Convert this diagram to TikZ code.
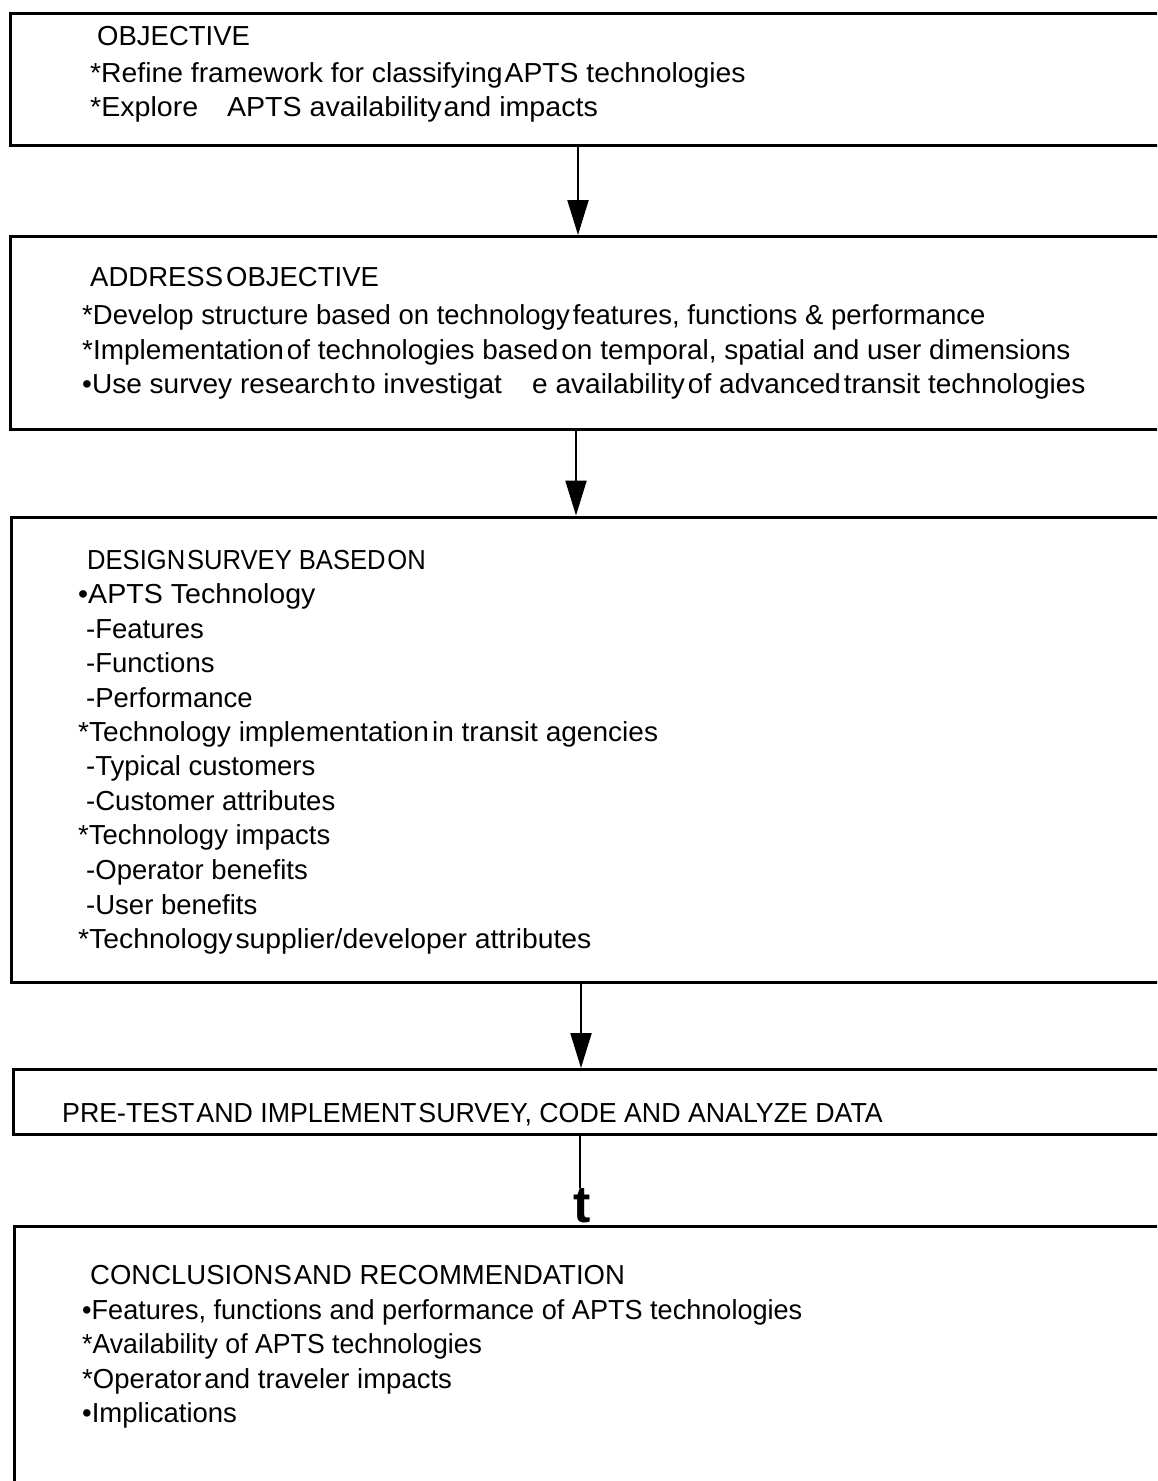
\documentclass[tikz,border=0pt]{standalone}
\usepackage{fontspec}
\setmainfont{Liberation Sans}
\usetikzlibrary{arrows.meta}
\begin{document}
\begin{tikzpicture}[x=1pt,y=-1pt,
  boxframe/.style={draw=black, line width=3pt, inner sep=0pt, anchor=north west},
  txt/.style={anchor=base west, inner sep=0pt, font=\fontsize{27.5}{33}\selectfont},
  conn/.style={line width=2.2pt, -{Triangle[length=35pt,width=21pt]}},
  plainline/.style={line width=2.2pt}]
\useasboundingbox (0,0) rectangle (1157,1481);
\clip (0,0) rectangle (1157,1481);
% boxes
\node[boxframe, minimum width=1180pt, minimum height=132pt] (b1) at (8.5,11.5) {};
\node[boxframe, minimum width=1180pt, minimum height=193pt] (b2) at (9,235) {};
\node[boxframe, minimum width=1180pt, minimum height=465pt] (b3) at (10,515.5) {};
\node[boxframe, minimum width=1180pt, minimum height=65pt] (b4) at (12,1068) {};
\node[boxframe, minimum width=1180pt, minimum height=320pt] (b5) at (12.5,1224.5) {};
% box 1 text
\node[txt] (t11) at (97,45) {OBJECTIVE};
\node[txt] (t12) at (90,82) {\scalebox{1.03}[1]{*Refine framework for classifying\hspace{2pt}APTS technologies}};
\node[txt] (t13) at (90,116) {\scalebox{1.04}[1]{*Explore\hspace{20pt} APTS availability\hspace{2pt}and impacts}};
% box 2 text
\node[txt] (t21) at (90,286) {ADDRESS\hspace{3pt}OBJECTIVE};
\node[txt] (t22) at (82,324) {*Develop structure based on technology\hspace{3pt}features, functions \& performance};
\node[txt] (t23) at (82,359) {\scalebox{1.015}[1]{*Implementation\hspace{3pt}of technologies based\hspace{3pt}on temporal, spatial and user dimensions}};
\node[txt] (t24) at (82,393) {\scalebox{1.02}[1]{•Use survey research\hspace{3pt}to investigat\hspace{22pt} e availability\hspace{3pt}of advanced\hspace{3pt}transit technologies}};
% box 3 text
\node[txt] (t31) at (87,569) {\scalebox{0.93}[1]{DESIGN\hspace{2pt}SURVEY BASED\hspace{2pt}ON}};
\node[txt] (t32) at (78,603) {\scalebox{1.04}[1]{•APTS Technology}};
\node[txt] (t33) at (86,638) {-Features};
\node[txt] (t34) at (86,672) {-Functions};
\node[txt] (t35) at (86,707) {-Performance};
\node[txt] (t36) at (78,741) {\scalebox{1.02}[1]{*Technology implementation\hspace{3pt}in transit agencies}};
\node[txt] (t37) at (86,775) {-Typical customers};
\node[txt] (t38) at (86,810) {-Customer attributes};
\node[txt] (t39) at (78,844) {*Technology impacts};
\node[txt] (t3a) at (86,879) {-Operator benefits};
\node[txt] (t3b) at (86,914) {-User benefits};
\node[txt] (t3c) at (78,948) {\scalebox{1.03}[1]{*Technology\hspace{3pt}supplier/developer attributes}};
% box 4 text
\node[txt] (t41) at (62,1122) {\scalebox{0.973}[1]{PRE-TEST\hspace{2pt}AND IMPLEMENT\hspace{2pt}SURVEY, CODE AND ANALYZE DATA}};
% box 5 text
\node[txt] (t51) at (90,1284) {CONCLUSIONS\hspace{2pt}AND RECOMMENDATION};
\node[txt] (t52) at (82,1319) {\scalebox{0.985}[1]{•Features, functions and performance of APTS technologies}};
\node[txt] (t53) at (82,1353) {\scalebox{0.97}[1]{*Availability of APTS technologies}};
\node[txt] (t54) at (82,1388) {*Operator\hspace{3pt}and traveler impacts};
\node[txt] (t55) at (82,1422) {•Implications};
% connectors
\coordinate (c1) at (578,0);
\coordinate (c2) at (576,0);
\coordinate (c3) at (581,0);
\coordinate (c4) at (580,0);
\draw[conn] (c1 |- b1.south) -- (c1 |- b2.north);
\draw[conn] (c2 |- b2.south) -- (c2 |- b3.north);
\draw[conn] (c3 |- b3.south) -- (c3 |- b4.north);
\node[anchor=base, inner sep=0pt, font=\fontsize{52}{52}\bfseries\selectfont] (tt) at (582,1222) {t};
\draw[plainline] (c4 |- b4.south) -- (c4 |- tt.north);
\end{tikzpicture}
\end{document}
